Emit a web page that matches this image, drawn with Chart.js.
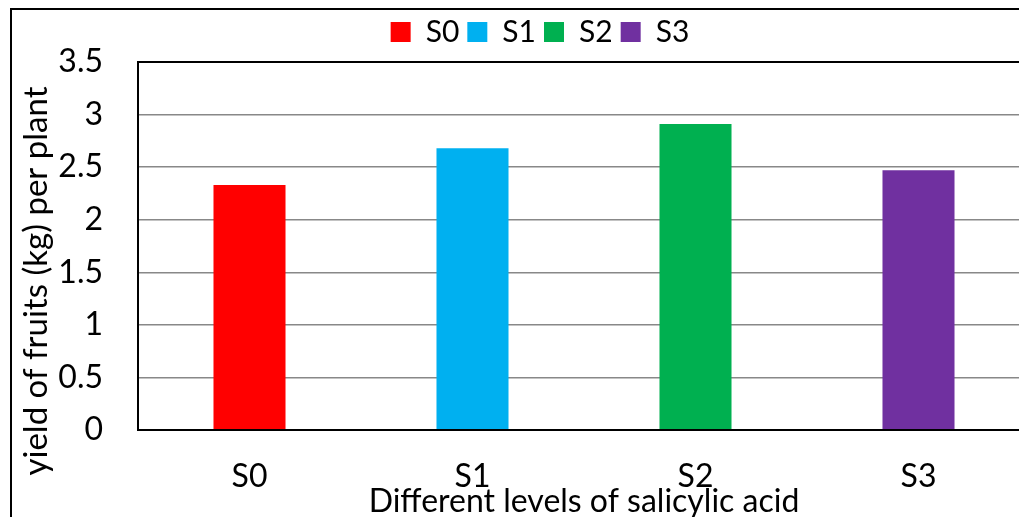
<!DOCTYPE html>
<html>
<head>
<meta charset="utf-8">
<script src="https://cdn.jsdelivr.net/npm/chart.js@4/dist/chart.umd.min.js"></script>
<style>
  html, body { margin: 0; padding: 0; background: #fff; overflow: hidden; width: 1019px; height: 517px; }
  #frame { position: absolute; left: 10px; top: 8px; width: 1100px; height: 600px; border: 2px solid #000; box-sizing: border-box; }
  #wrap { position: absolute; left: 0; top: 0; width: 1070px; height: 517px; }
</style>
</head>
<body>
<div id="frame"></div>
<div id="wrap"><canvas id="c" width="1070" height="517"></canvas></div>
<script>
// Fruit yield per plant for each salicylic acid level
const categories = ['S0', 'S1', 'S2', 'S3'];
const yieldValues = [2.33, 2.68, 2.91, 2.47];
const barColors = ['#FF0000', '#00B0F0', '#00B050', '#7030A0'];
const yTicks = [0, 0.5, 1, 1.5, 2, 2.5, 3, 3.5];

const xTitle = 'Different levels of salicylic acid';
const yTitle = 'yield of fruits (kg) per plant';
const FONT = 'Lato';
const FSIZE = 32;
const PAD_LEFT = 50;

// Extra space between the legend row and the plot area
const legendGap = {
  id: 'legendGap',
  beforeInit(chart) {
    const fit = chart.legend.fit;
    chart.legend.fit = function () {
      fit.call(this);
      this.height += 5;
    };
  }
};

// Plot-area frame and rotated value-axis title
const framePlugin = {
  id: 'frame',
  afterDraw(chart) {
    const { ctx, chartArea: a } = chart;
    ctx.save();
    ctx.strokeStyle = '#000';
    ctx.lineWidth = 2;
    ctx.strokeRect(a.left, a.top, a.right - a.left, a.bottom - a.top);
    ctx.translate(36, 281);
    ctx.rotate(-Math.PI / 2);
    ctx.fillStyle = '#000';
    ctx.font = '33px ' + FONT;
    ctx.textAlign = 'center';
    ctx.textBaseline = 'middle';
    ctx.fillText(yTitle, 0, 0);
    ctx.restore();
  }
};

new Chart(document.getElementById('c'), {
  type: 'bar',
  data: {
    labels: categories,
    datasets: [{
      data: yieldValues,
      backgroundColor: barColors,
      borderWidth: 0,
      barPercentage: 0.323,
      categoryPercentage: 1
    }]
  },
  options: {
    responsive: false,
    animation: false,
    devicePixelRatio: 1,
    layout: { padding: { left: PAD_LEFT, right: 40, top: 9, bottom: 0 } },
    plugins: {
      tooltip: { enabled: false },
      legend: {
        position: 'top',
        onClick: null,
        labels: {
          color: '#000',
          font: { family: FONT, size: 30 },
          boxWidth: 20,
          boxHeight: 20,
          padding: 8,
          generateLabels: () => categories.map((c, i) => ({
            text: c,
            fillStyle: barColors[i],
            strokeStyle: barColors[i],
            lineWidth: 0,
            fontColor: '#000',
            index: i
          }))
        }
      }
    },
    scales: {
      x: {
        grid: { display: false, drawTicks: false },
        border: { display: true, color: '#000', width: 2 },
        ticks: { color: '#000', font: { family: FONT, size: FSIZE }, padding: 27 },
        title: {
          display: true,
          text: xTitle,
          color: '#000',
          font: { family: FONT, size: FSIZE, lineHeight: 1.1 },
          padding: { top: 0, bottom: -2 }
        },
        afterFit(scale) { scale.height = 87; }
      },
      y: {
        min: 0,
        max: 3.5,
        afterBuildTicks(scale) { scale.ticks = yTicks.map(v => ({ value: v })); },
        grid: { color: '#888', lineWidth: 1.5, drawTicks: false },
        border: { display: true, color: '#000', width: 2 },
        ticks: {
          color: '#000',
          font: { family: FONT, size: FSIZE },
          padding: 35,
          callback: v => String(v)
        },
        afterFit(scale) { scale.width = 138 - PAD_LEFT; }
      }
    }
  },
  plugins: [legendGap, framePlugin]
});
</script>
</body>
</html>
